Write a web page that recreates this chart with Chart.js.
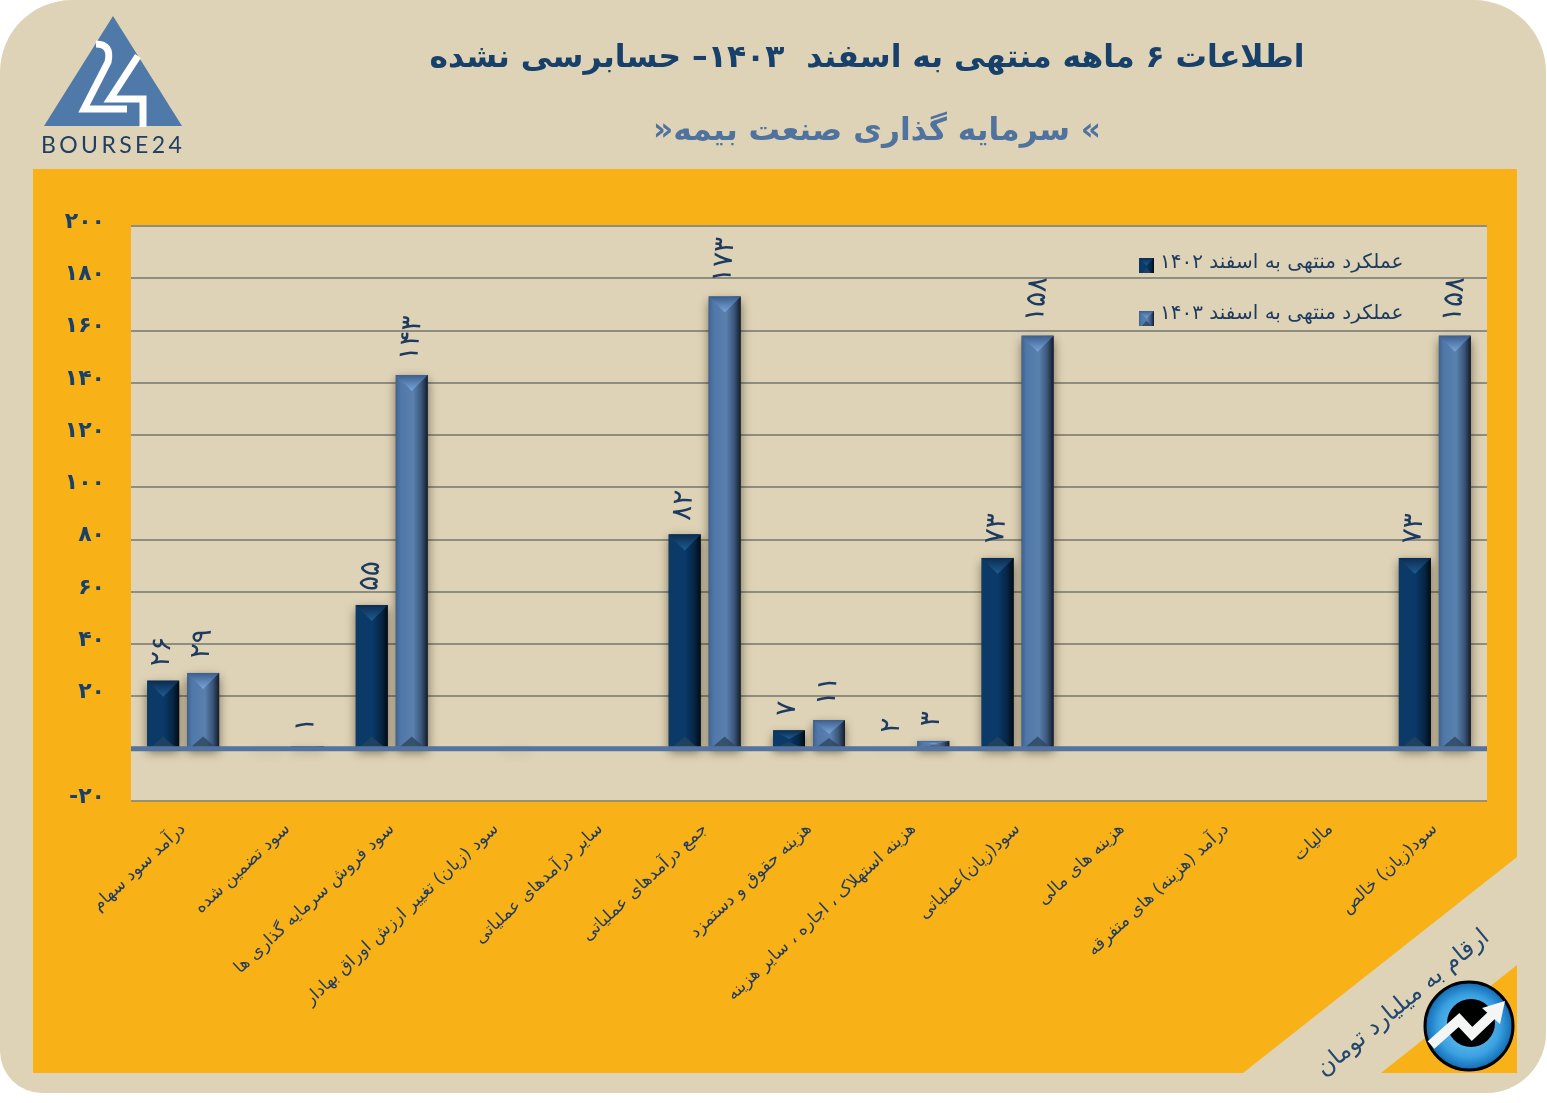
<!DOCTYPE html>
<html lang="fa">
<head>
<meta charset="UTF-8">
<title>Bourse24 bimeh</title>
<script src="https://cdn.jsdelivr.net/npm/chart.js"></script>
<style>
    body { margin: 0; background: #fff; }
    canvas { display: block; }
</style>
</head>
<body>
<canvas id="chart" width="1547" height="1103"></canvas>
<script>
    const categories = [
        'درآمد سود سهام', 'سود تضمین شده', 'سود فروش سرمایه گذاری ها',
        'سود (زیان) تغییر ارزش اوراق بهادار', 'سایر درآمدهای عملیاتی',
        'جمع درآمدهای عملیاتی', 'هزینه حقوق و دستمزد',
        'هزینه استهلاک ، اجاره ، سایر هزینه', 'سود(زیان)عملیاتی',
        'هزینه های مالی', 'درآمد (هزینه) های متفرقه', 'مالیات', 'سود(زیان) خالص'
    ];
    const values1402 = [26, 0.1, 55, 0, 0, 82, 7, 0.5, 73, 0, 0, 0, 73];
    const values1403 = [29, 1, 143, 0.1, 0, 173, 11, 3, 158, 0, 0, 0, 158];
    const labels1402 = ['۲۶', '', '۵۵', '', '', '۸۲', '۷', '۲', '۷۳', '', '', '', '۷۳'];
    const labels1403 = ['۲۹', '۱', '۱۴۳', '', '', '۱۷۳', '۱۱', '۳', '۱۵۸', '', '', '', '۱۵۸'];
    const seriesNames = ['عملکرد منتهی به اسفند ۱۴۰۲', 'عملکرد منتهی به اسفند ۱۴۰۳'];
    const titleText = 'اطلاعات ۶ ماهه منتهی به اسفند  ۱۴۰۳– حسابرسی نشده';
    const subtitleText = '» سرمایه گذاری صنعت بیمه«';
    const unitText = 'ارقام به میلیارد تومان';

    const FONT = '"DejaVu Sans", sans-serif';
    const BEIGE = '#dfd3b7', ORANGE = '#f9b118', NAVY = '#17406b', STEEL = '#4f739e', TEXT = '#1d3a5f';

    const dark = {
        side: [[0, '#0c3a66'], [0.5, '#0a3a6a'], [0.8, '#062645'], [1, '#020a14']],
        top0: '#0c2c50', top1: '#1f5c90', bot: 'rgba(40,70,95,0.75)'
    };
    const light = {
        side: [[0, '#3f628f'], [0.15, '#4f78a8'], [0.55, '#5a80ae'], [0.8, '#3a5578'], [1, '#141c28']],
        top0: '#3c5f8c', top1: '#7aa6dc', bot: 'rgba(45,70,95,0.8)'
    };

    function toFa(n) {
        return String(n).replace(/\d/g, d => '۰۱۲۳۴۵۶۷۸۹'[d]);
    }

    // bevelled bar, like the 3D style of the original
    function bevelBar(ctx, x0, y0, x1, y1, c, shadow) {
        const w = x1 - x0, h = y1 - y0, cx = (x0 + x1) / 2;
        const b = Math.min(w / 2, h / 2);
        ctx.save();
        if (shadow) {
            ctx.shadowColor = 'rgba(30,20,0,0.55)';
            ctx.shadowBlur = 10;
            ctx.shadowOffsetY = 4;
        }
        const g = ctx.createLinearGradient(x0, 0, x1, 0);
        c.side.forEach(s => g.addColorStop(s[0], s[1]));
        ctx.fillStyle = g;
        ctx.fillRect(x0, y0, w, h);
        ctx.restore();
        if (h < 1) return;
        // top facet
        const t = ctx.createLinearGradient(0, y0, 0, y0 + b);
        t.addColorStop(0, c.top0);
        t.addColorStop(1, c.top1);
        ctx.fillStyle = t;
        ctx.beginPath();
        ctx.moveTo(x0, y0);
        ctx.lineTo(x1, y0);
        ctx.lineTo(cx, y0 + b);
        ctx.closePath();
        ctx.fill();
        // bottom facet, shallower than the top one
        ctx.fillStyle = c.bot;
        ctx.beginPath();
        ctx.moveTo(x0 + 3, y1);
        ctx.lineTo(x1 - 3, y1);
        ctx.lineTo(cx, y1 - b * 0.7);
        ctx.closePath();
        ctx.fill();
    }

    function roundedPanel(ctx) {
        ctx.fillStyle = BEIGE;
        ctx.beginPath();
        ctx.roundRect(0, 0, 1546, 1093, [72, 72, 60, 42]);
        ctx.fill();
    }

    function drawLogo(ctx) {
        ctx.fillStyle = '#4f79a8';
        ctx.beginPath();
        ctx.moveTo(113, 16);
        ctx.lineTo(182, 126);
        ctx.lineTo(44, 126);
        ctx.closePath();
        ctx.fill();
        ctx.strokeStyle = '#fff';
        ctx.lineWidth = 7;
        ctx.lineJoin = 'miter';
        ctx.beginPath();
        ctx.moveTo(96, 44);
        ctx.quadraticCurveTo(112, 44, 108, 62);
        ctx.lineTo(84, 109);
        ctx.lineTo(127, 109);
        ctx.stroke();
        ctx.beginPath();
        ctx.moveTo(138, 56);
        ctx.lineTo(110, 99);
        ctx.lineTo(143, 99);
        ctx.lineTo(143, 127);
        ctx.stroke();
        ctx.fillStyle = '#1f3f63';
        ctx.font = '23px Lato, sans-serif';
        ctx.letterSpacing = '3.4px';
        ctx.textAlign = 'left';
        ctx.textBaseline = 'alphabetic';
        ctx.fillText('BOURSE24', 41, 153);
        ctx.letterSpacing = '0px';
    }

    function drawBadge(ctx) {
        const g = ctx.createRadialGradient(1469, 1026, 10, 1469, 1026, 45);
        g.addColorStop(0, '#6cc4f2');
        g.addColorStop(0.6, '#3aa0e0');
        g.addColorStop(1, '#0c66b0');
        ctx.fillStyle = g;
        ctx.strokeStyle = '#000';
        ctx.lineWidth = 3;
        ctx.beginPath();
        ctx.arc(1469, 1026, 44, 0, Math.PI * 2);
        ctx.fill();
        ctx.stroke();
        ctx.fillStyle = '#000';
        ctx.beginPath();
        ctx.arc(1471, 1023, 24, 0, Math.PI * 2);
        ctx.fill();
        ctx.strokeStyle = '#f4f6f6';
        ctx.lineWidth = 10;
        ctx.lineJoin = 'miter';
        ctx.beginPath();
        ctx.moveTo(1431, 1045);
        ctx.lineTo(1459, 1020);
        ctx.lineTo(1472, 1034);
        ctx.lineTo(1494, 1013);
        ctx.stroke();
        ctx.fillStyle = '#f4f6f6';
        ctx.beginPath();
        ctx.moveTo(1505, 1001);
        ctx.lineTo(1500, 1024);
        ctx.lineTo(1482, 1008);
        ctx.closePath();
        ctx.fill();
    }

    // background panels, headings and logos sit under the chart
    const panelPlugin = {
        id: 'panel',
        beforeDraw(chart) {
            const ctx = chart.ctx, area = chart.chartArea;
            ctx.save();
            roundedPanel(ctx);
            ctx.fillStyle = ORANGE;
            ctx.fillRect(33, 169, 1484, 904);
            ctx.fillStyle = BEIGE;
            ctx.beginPath();
            ctx.moveTo(1517, 857);
            ctx.lineTo(1517, 965);
            ctx.lineTo(1381, 1073);
            ctx.lineTo(1243, 1073);
            ctx.closePath();
            ctx.fill();
            ctx.fillRect(area.left, area.top, area.right - area.left, area.bottom - area.top);

            ctx.direction = 'rtl';
            ctx.textAlign = 'center';
            ctx.textBaseline = 'alphabetic';
            ctx.fillStyle = NAVY;
            ctx.font = 'bold 31.4px ' + FONT;
            ctx.fillText(titleText, 867, 67);
            ctx.fillStyle = STEEL;
            ctx.font = 'bold 31.3px ' + FONT;
            ctx.fillText(subtitleText, 877, 140);

            ctx.save();
            ctx.translate(1402, 1002);
            ctx.rotate(-39.6 * Math.PI / 180);
            ctx.fillStyle = '#24476d';
            ctx.font = '24px ' + FONT;
            ctx.fillText(unitText, 0, 8);
            ctx.restore();
            ctx.direction = 'ltr';
            drawLogo(ctx);
            drawBadge(ctx);
            ctx.restore();
        }
    };

    // bevels, zero line, value labels and legend go over the library's bars
    const bevelPlugin = {
        id: 'bevel',
        afterDatasetsDraw(chart) {
            const ctx = chart.ctx, y = chart.scales.y, area = chart.chartArea;
            const looks = [dark, light], texts = [labels1402, labels1403];
            ctx.save();
            chart.data.datasets.forEach((ds, i) => {
                chart.getDatasetMeta(i).data.forEach((bar, j) => {
                    if (!ds.data[j]) return;
                    const p = bar.getProps(['x', 'y', 'base', 'width'], true);
                    bevelBar(ctx, p.x - p.width / 2, p.y, p.x + p.width / 2, p.base, looks[i], true);
                });
            });
            // thick zero line
            const zero = y.getPixelForValue(0);
            ctx.fillStyle = '#54739f';
            ctx.fillRect(area.left, zero - 2.5, area.right - area.left, 5);

            ctx.fillStyle = TEXT;
            ctx.font = '28px ' + FONT;
            ctx.textAlign = 'left';
            ctx.textBaseline = 'middle';
            chart.data.datasets.forEach((ds, i) => {
                chart.getDatasetMeta(i).data.forEach((bar, j) => {
                    if (!texts[i][j]) return;
                    const p = bar.getProps(['x', 'y'], true);
                    ctx.save();
                    ctx.translate(p.x - 2, p.y - 14);
                    ctx.rotate(-85 * Math.PI / 180);
                    ctx.fillText(texts[i][j], 0, 0);
                    ctx.restore();
                });
            });

            // legend
            const rows = [[1139, 265, dark], [1139, 318, light]];
            rows.forEach((r, i) => {
                bevelBar(ctx, r[0], r[1] - 7, r[0] + 15, r[1] + 8, r[2], false);
                ctx.fillStyle = TEXT;
                ctx.font = '20px ' + FONT;
                ctx.textAlign = 'left';
                ctx.textBaseline = 'alphabetic';
                ctx.fillText(seriesNames[i], 1160, r[1] + 3 - i * 2);
            });
            ctx.restore();
        }
    };

    new Chart(document.getElementById('chart'), {
        type: 'bar',
        data: {
            labels: categories,
            datasets: [
                { label: seriesNames[0], data: values1402, backgroundColor: dark.side[0][1], categoryPercentage: 0.767, barPercentage: 0.8 },
                { label: seriesNames[1], data: values1403, backgroundColor: light.side[0][1], categoryPercentage: 0.767, barPercentage: 0.8 }
            ]
        },
        options: {
            responsive: false,
            animation: false,
            layout: { padding: { top: 226, right: 60, left: 0, bottom: 0 } },
            plugins: { legend: { display: false }, tooltip: { enabled: false } },
            scales: {
                x: {
                    afterFit(s) { s.height = 302; },
                    grid: { display: false },
                    border: { display: false },
                    ticks: {
                        autoSkip: false,
                        minRotation: 43,
                        maxRotation: 43,
                        padding: 10,
                        color: TEXT,
                        font: { family: FONT, size: 17.3 }
                    }
                },
                y: {
                    min: -20,
                    max: 200,
                    afterFit(s) { s.width = 131; },
                    border: { display: false },
                    grid: {
                        color: c => c.tick.value === 0 ? 'transparent' : (c.tick.value === -20 ? '#9c8f6e' : '#8f8c80'),
                        lineWidth: 2,
                        drawTicks: false
                    },
                    ticks: {
                        stepSize: 20,
                        padding: 26,
                        labelOffset: -4,
                        color: NAVY,
                        font: { family: FONT, size: 22, weight: 'bold' },
                        callback: v => v === 0 ? '' : toFa(v)
                    }
                }
            }
        },
        plugins: [panelPlugin, bevelPlugin]
    });
</script>
</body>
</html>
